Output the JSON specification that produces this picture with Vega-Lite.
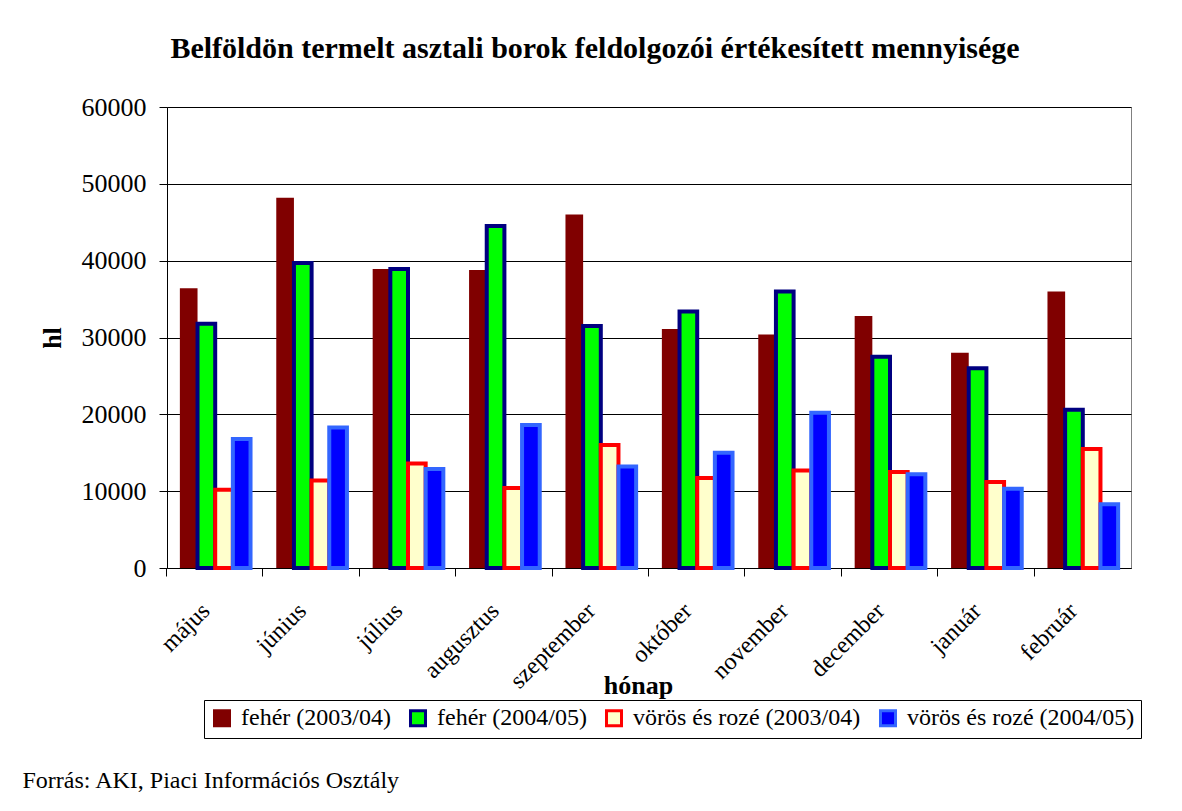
{
  "$schema": "https://vega.github.io/schema/vega-lite/v6.json",
  "background": "white",
  "padding": {"left": 22, "top": 33, "right": 30, "bottom": 10},
  "title": {
    "text": "Forrás: AKI, Piaci Információs Osztály",
    "orient": "bottom",
    "anchor": "start",
    "frame": "bounds",
    "fontSize": 24,
    "fontWeight": "normal",
    "font": "Liberation Serif",
    "color": "black",
    "offset": 30,
    "dx": -16
  },
  "vconcat": [
    {
      "width": 964,
      "height": 461,
      "title": {
        "text": "Belföldön termelt asztali borok feldolgozói értékesített mennyisége",
        "fontSize": 30,
        "fontWeight": "bold",
        "font": "Liberation Serif",
        "color": "black",
        "anchor": "middle",
        "frame": "bounds",
        "offset": 30,
        "dx": 10
      },
      "data": {
        "values": [
          {"honap": "május", "sorozat": "fehér (2003/04)", "hl": 36400},
          {"honap": "május", "sorozat": "fehér (2004/05)", "hl": 31800},
          {"honap": "május", "sorozat": "vörös és rozé (2003/04)", "hl": 10200},
          {"honap": "május", "sorozat": "vörös és rozé (2004/05)", "hl": 16800},
          {"honap": "június", "sorozat": "fehér (2003/04)", "hl": 48200},
          {"honap": "június", "sorozat": "fehér (2004/05)", "hl": 39700},
          {"honap": "június", "sorozat": "vörös és rozé (2003/04)", "hl": 11400},
          {"honap": "június", "sorozat": "vörös és rozé (2004/05)", "hl": 18300},
          {"honap": "július", "sorozat": "fehér (2003/04)", "hl": 38900},
          {"honap": "július", "sorozat": "fehér (2004/05)", "hl": 38900},
          {"honap": "július", "sorozat": "vörös és rozé (2003/04)", "hl": 13600},
          {"honap": "július", "sorozat": "vörös és rozé (2004/05)", "hl": 12900},
          {"honap": "augusztus", "sorozat": "fehér (2003/04)", "hl": 38800},
          {"honap": "augusztus", "sorozat": "fehér (2004/05)", "hl": 44500},
          {"honap": "augusztus", "sorozat": "vörös és rozé (2003/04)", "hl": 10400},
          {"honap": "augusztus", "sorozat": "vörös és rozé (2004/05)", "hl": 18600},
          {"honap": "szeptember", "sorozat": "fehér (2003/04)", "hl": 46000},
          {"honap": "szeptember", "sorozat": "fehér (2004/05)", "hl": 31500},
          {"honap": "szeptember", "sorozat": "vörös és rozé (2003/04)", "hl": 16000},
          {"honap": "szeptember", "sorozat": "vörös és rozé (2004/05)", "hl": 13200},
          {"honap": "október", "sorozat": "fehér (2003/04)", "hl": 31100},
          {"honap": "október", "sorozat": "fehér (2004/05)", "hl": 33400},
          {"honap": "október", "sorozat": "vörös és rozé (2003/04)", "hl": 11700},
          {"honap": "október", "sorozat": "vörös és rozé (2004/05)", "hl": 15000},
          {"honap": "november", "sorozat": "fehér (2003/04)", "hl": 30400},
          {"honap": "november", "sorozat": "fehér (2004/05)", "hl": 36000},
          {"honap": "november", "sorozat": "vörös és rozé (2003/04)", "hl": 12700},
          {"honap": "november", "sorozat": "vörös és rozé (2004/05)", "hl": 20200},
          {"honap": "december", "sorozat": "fehér (2003/04)", "hl": 32800},
          {"honap": "december", "sorozat": "fehér (2004/05)", "hl": 27500},
          {"honap": "december", "sorozat": "vörös és rozé (2003/04)", "hl": 12500},
          {"honap": "december", "sorozat": "vörös és rozé (2004/05)", "hl": 12200},
          {"honap": "január", "sorozat": "fehér (2003/04)", "hl": 28000},
          {"honap": "január", "sorozat": "fehér (2004/05)", "hl": 26000},
          {"honap": "január", "sorozat": "vörös és rozé (2003/04)", "hl": 11200},
          {"honap": "január", "sorozat": "vörös és rozé (2004/05)", "hl": 10300},
          {"honap": "február", "sorozat": "fehér (2003/04)", "hl": 36000},
          {"honap": "február", "sorozat": "fehér (2004/05)", "hl": 20600},
          {"honap": "február", "sorozat": "vörös és rozé (2003/04)", "hl": 15500},
          {"honap": "február", "sorozat": "vörös és rozé (2004/05)", "hl": 8300}
        ]
      },
      "mark": {"type": "bar"},
      "encoding": {
        "x": {
          "field": "honap",
          "type": "nominal",
          "sort": ["május", "június", "július", "augusztus", "szeptember", "október", "november", "december", "január", "február"],
          "scale": {"paddingInner": 0.267, "paddingOuter": 0.1335},
          "axis": {
            "title": "hónap",
            "titleFontSize": 26,
            "titleFontWeight": "bold",
            "titlePadding": -20,
            "titleX": 471,
            "labelAngle": -45,
            "labelAlign": "right",
            "labelBaseline": "middle",
            "labelFontSize": 24,
            "labelPadding": 31,
            "labelOffset": -9,
            "bandPosition": -0.189,
            "tickSize": 8,
            "labelLimit": 300
          }
        },
        "xOffset": {
          "field": "sorozat",
          "type": "nominal",
          "sort": ["fehér (2003/04)", "fehér (2004/05)", "vörös és rozé (2003/04)", "vörös és rozé (2004/05)"],
          "scale": {"paddingInner": 0, "paddingOuter": 0}
        },
        "y": {
          "field": "hl",
          "type": "quantitative",
          "scale": {"domain": [0, 60000], "nice": false},
          "axis": {
            "title": "hl",
            "titleFontSize": 26,
            "titleFontWeight": "bold",
            "titlePadding": 16,
            "values": [0, 10000, 20000, 30000, 40000, 50000, 60000],
            "format": "d",
            "labelFontSize": 26,
            "labelPadding": 13,
            "tickSize": 8,
            "grid": true,
            "gridColor": "black",
            "gridOpacity": 1,
            "gridWidth": 1
          }
        },
        "fill": {
          "field": "sorozat",
          "type": "nominal",
          "scale": {
            "domain": ["fehér (2003/04)", "fehér (2004/05)", "vörös és rozé (2003/04)", "vörös és rozé (2004/05)"],
            "range": ["#800000", "#00FF00", "#FFFFCC", "#0000FF"]
          },
          "legend": {
            "title": null,
            "orient": "none",
            "legendX": 37,
            "legendY": 593,
            "direction": "horizontal",
            "symbolType": "square",
            "symbolSize": 225,
            "symbolStrokeWidth": 3,
            "symbolOpacity": 1,
            "labelFontSize": 24,
            "labelFont": "Liberation Serif",
            "labelColor": "black",
            "labelOffset": 7,
            "columnPadding": 13,
            "strokeColor": "black",
            "fillColor": "white",
            "padding": 6,
            "labelLimit": 400
          }
        },
        "stroke": {
          "field": "sorozat",
          "type": "nominal",
          "scale": {
            "domain": ["fehér (2003/04)", "fehér (2004/05)", "vörös és rozé (2003/04)", "vörös és rozé (2004/05)"],
            "range": ["#800000", "#000080", "#FF0000", "#3366FF"]
          },
          "legend": {
            "title": null,
            "orient": "none",
            "legendX": 37,
            "legendY": 593,
            "direction": "horizontal",
            "symbolType": "square",
            "symbolSize": 225,
            "symbolStrokeWidth": 3,
            "symbolOpacity": 1,
            "labelFontSize": 24,
            "labelFont": "Liberation Serif",
            "labelColor": "black",
            "labelOffset": 7,
            "columnPadding": 13,
            "strokeColor": "black",
            "fillColor": "white",
            "padding": 6,
            "labelLimit": 400
          }
        },
        "strokeWidth": {
          "condition": {"test": "datum.sorozat === 'fehér (2003/04)'", "value": 0},
          "value": 4
        }
      }
    }
  ],
  "config": {
    "font": "Liberation Serif",
    "view": {"stroke": "#808080"},
    "axis": {
      "labelColor": "black",
      "titleColor": "black",
      "domainColor": "black",
      "tickColor": "black",
      "labelFont": "Liberation Serif",
      "titleFont": "Liberation Serif"
    },
    "title": {"color": "black", "font": "Liberation Serif"}
  }
}
